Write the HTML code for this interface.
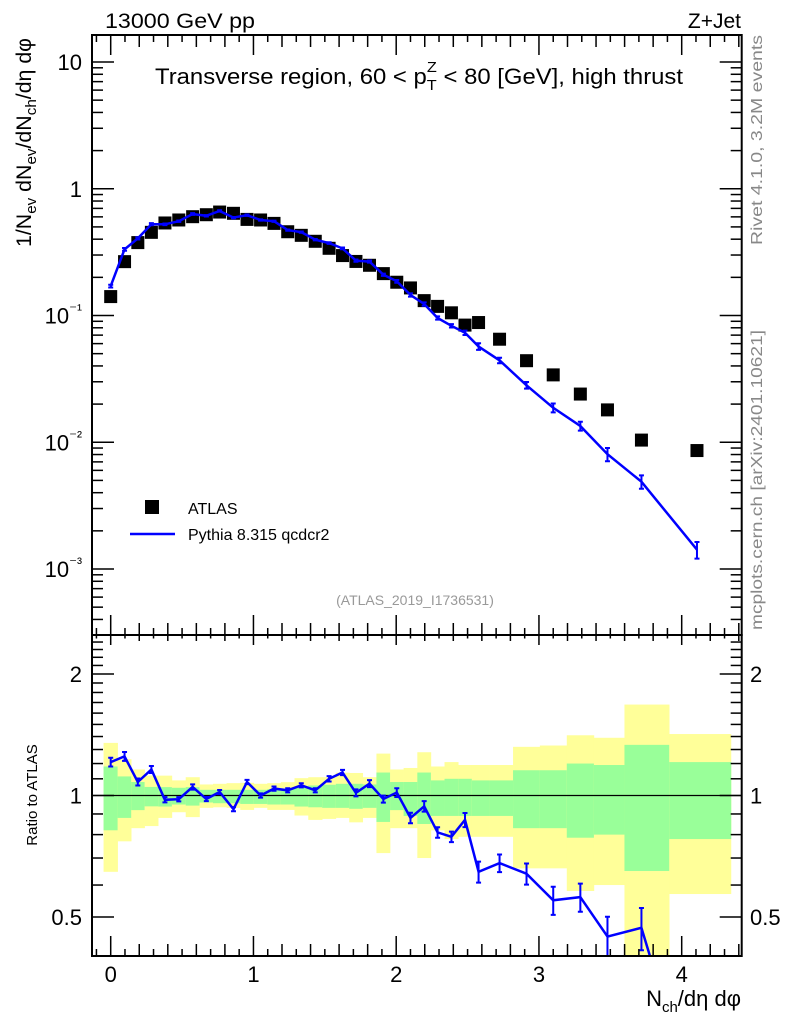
<!DOCTYPE html>
<html><head><meta charset="utf-8"><style>
html,body{margin:0;padding:0;background:#fff;overflow:hidden;width:786px;height:1024px;}
svg{display:block;font-family:"Liberation Sans",Arial,sans-serif;}
</style></head><body>
<svg id="chart" width="786" height="1024" viewBox="0 0 786 1024" xmlns="http://www.w3.org/2000/svg">
<defs>
<clipPath id="clipMain"><rect x="92" y="35" width="649.7" height="600"/></clipPath>
<clipPath id="clipRatio"><rect x="92" y="635" width="649.7" height="321"/></clipPath>
</defs>
<g id="ratioBands" clip-path="url(#clipRatio)"></g>
<g id="mainLayer" clip-path="url(#clipMain)"></g>
<g id="ratioLayer" clip-path="url(#clipRatio)"></g>
<g id="axes"></g>

<text x="105" y="28" font-size="21" textLength="150" lengthAdjust="spacingAndGlyphs">13000 GeV pp</text>
<text x="741" y="28" font-size="21" text-anchor="end">Z+Jet</text>
<text x="155" y="84" font-size="22" textLength="528" lengthAdjust="spacingAndGlyphs">Transverse region, 60 &lt; p<tspan font-size="15" dy="6">T</tspan><tspan font-size="15" dx="-9" dy="-18">Z</tspan><tspan dy="12"> &lt; 80 [GeV], high thrust</tspan></text>
<text transform="translate(31,38) rotate(-90)" font-size="21" text-anchor="end" textLength="209" lengthAdjust="spacingAndGlyphs">1/N<tspan font-size="15" dy="5">ev</tspan><tspan dy="-5"> dN</tspan><tspan font-size="15" dy="5">ev</tspan><tspan dy="-5">/dN</tspan><tspan font-size="15" dy="5">ch</tspan><tspan dy="-5">/dη dφ</tspan></text>
<text transform="translate(37,795) rotate(-90)" font-size="15" text-anchor="middle">Ratio to ATLAS</text>
<text x="741" y="1006" font-size="22" text-anchor="end">N<tspan font-size="15" dy="6">ch</tspan><tspan dy="-6">/dη dφ</tspan></text>
<text transform="translate(762,245) rotate(-90)" font-size="16" fill="#888" textLength="210" lengthAdjust="spacingAndGlyphs">Rivet 4.1.0,  3.2M events</text>
<text transform="translate(762,630) rotate(-90)" font-size="16" fill="#888" textLength="300" lengthAdjust="spacingAndGlyphs">mcplots.cern.ch [arXiv:2401.10621]</text>
<text x="415" y="605" font-size="14" fill="#999" text-anchor="middle">(ATLAS_2019_I1736531)</text>
<g>
<rect x="145" y="500" width="14" height="14" fill="#000"/>
<text x="188" y="514" font-size="16">ATLAS</text>
<line x1="130" y1="534" x2="175" y2="534" stroke="#0000ff" stroke-width="2.5"/>
<text x="188" y="540" font-size="16">Pythia 8.315 qcdcr2</text>
</g>
</svg>
<script>
const xVals=[0,0.097,0.19,0.285,0.38,0.477,0.574,0.67,0.763,0.86,0.955,1.05,1.144,1.24,1.335,1.433,1.53,1.624,1.718,1.813,1.91,2.004,2.1,2.196,2.29,2.387,2.482,2.577,2.724,2.913,3.1,3.29,3.48,3.718,4.107];
const atlasVals=[0.141,0.266,0.376,0.453,0.537,0.567,0.602,0.624,0.655,0.64,0.573,0.567,0.533,0.458,0.429,0.385,0.339,0.297,0.267,0.249,0.214,0.183,0.165,0.131,0.118,0.105,0.084,0.088,0.065,0.044,0.034,0.024,0.018,0.0104,0.0086];
const ratioVals=[1.21,1.25,1.08,1.16,0.976,0.979,1.05,0.98,1.02,0.925,1.08,1.0,1.04,1.03,1.06,1.03,1.10,1.14,1.015,1.07,0.98,1.017,0.88,0.94,0.81,0.79,0.87,0.647,0.68,0.64,0.55,0.56,0.447,0.47,0.165];
const mcRelErr=[0.025,0.025,0.02,0.02,0.015,0.012,0.015,0.012,0.012,0.012,0.012,0.012,0.012,0.012,0.012,0.012,0.015,0.015,0.02,0.02,0.02,0.025,0.03,0.03,0.03,0.03,0.04,0.06,0.05,0.06,0.08,0.08,0.12,0.12,0.15];
const yellowTop=[1.35,1.23,1.16,1.12,1.12,1.09,1.11,1.065,1.069,1.073,1.075,1.069,1.073,1.079,1.104,1.11,1.11,1.139,1.137,1.11,1.27,1.16,1.17,1.28,1.18,1.21,1.19,1.19,1.19,1.32,1.33,1.41,1.39,1.68,1.42];
const greenTop=[1.18,1.115,1.08,1.05,1.049,1.045,1.049,1.033,1.033,1.033,1.033,1.033,1.037,1.039,1.049,1.059,1.063,1.069,1.069,1.065,1.14,1.08,1.08,1.14,1.09,1.10,1.10,1.09,1.09,1.155,1.155,1.20,1.19,1.335,1.21];
const greenBot=[0.82,0.88,0.92,0.94,0.939,0.95,0.944,0.961,0.957,0.957,0.953,0.953,0.95,0.95,0.939,0.935,0.932,0.932,0.927,0.932,0.86,0.92,0.89,0.85,0.89,0.89,0.89,0.89,0.89,0.83,0.83,0.786,0.80,0.65,0.78];
const yellowBot=[0.647,0.77,0.83,0.84,0.88,0.909,0.884,0.932,0.935,0.932,0.921,0.932,0.921,0.921,0.892,0.87,0.875,0.88,0.858,0.88,0.72,0.83,0.83,0.70,0.82,0.78,0.79,0.79,0.79,0.66,0.66,0.58,0.60,0.3,0.57];
const mainTickLabels=["10","1","10\u207B\u00B9","10\u207B\u00B2","10\u207B\u00B3"];
const ratioTickLabels=["2","1","0.5"];
const xTickLabels=["0","1","2","3","4"];

const NS="http://www.w3.org/2000/svg";
const L=92,R=741.7,T=35,MB=635,RB=956;
function sx(v){return 110.7+v*142.75;}
function syMain(v){return 188.75-Math.log10(v)*126.75;}
function syRatio(v){return 795.5-Math.log2(v)*121.5;}
function mk(tag,attrs,parent){const e=document.createElementNS(NS,tag);for(const k in attrs)e.setAttribute(k,attrs[k]);parent.appendChild(e);return e;}
const bands=document.getElementById('ratioBands');
const main=document.getElementById('mainLayer');
const ratio=document.getElementById('ratioLayer');
const axes=document.getElementById('axes');
const n=xVals.length;
function edgeL(i){return i===0?xVals[0]-0.05:(xVals[i-1]+xVals[i])/2;}
function edgeR(i){return i===n-1?4.345:(xVals[i]+xVals[i+1])/2;}
for(let i=0;i<n;i++){
  const x1=sx(edgeL(i)),x2=sx(edgeR(i));
  const y=mk('rect',{x:x1,y:syRatio(yellowTop[i]),width:x2-x1+0.3,height:syRatio(yellowBot[i])-syRatio(yellowTop[i]),fill:'#ffff99'},bands);
  
  
  const g=mk('rect',{x:x1,y:syRatio(greenTop[i]),width:x2-x1+0.3,height:syRatio(greenBot[i])-syRatio(greenTop[i]),fill:'#99ff99'},bands);
  
  
}
const one=mk('line',{x1:L,x2:R,y1:syRatio(1),y2:syRatio(1),stroke:'#000','stroke-width':1.3},ratio);


for(let i=0;i<n;i++){
  const s=mk('rect',{x:sx(xVals[i])-6.5,y:syMain(atlasVals[i])-6.5,width:13,height:13,fill:'#000'},main);
  
  
}
let pm='',pr='';
for(let i=0;i<n;i++){
  const mc=atlasVals[i]*ratioVals[i];
  pm+=(i?'L':'M')+sx(xVals[i]).toFixed(1)+','+syMain(mc).toFixed(1);
  pr+=(i?'L':'M')+sx(xVals[i]).toFixed(1)+','+syRatio(ratioVals[i]).toFixed(1);
}
const lm=mk('path',{d:pm,fill:'none',stroke:'#0000ff','stroke-width':2.5},main);


const lr=mk('path',{d:pr,fill:'none',stroke:'#0000ff','stroke-width':2.5},ratio);


for(let i=0;i<n;i++){
  const mc=atlasVals[i]*ratioVals[i],e=mcRelErr[i],x=sx(xVals[i]);
  const a=syMain(mc*(1+e)),b=syMain(mc*(1-e));
  const eb=mk('path',{d:`M${x},${a}L${x},${b}M${x-2.5},${a}L${x+2.5},${a}M${x-2.5},${b}L${x+2.5},${b}`,stroke:'#0000ff','stroke-width':2,fill:'none'},main);
  
  
  const c=syRatio(ratioVals[i]*(1+e)),d=syRatio(ratioVals[i]*(1-e));
  const er=mk('path',{d:`M${x},${c}L${x},${d}M${x-2.5},${c}L${x+2.5},${c}M${x-2.5},${d}L${x+2.5},${d}`,stroke:'#0000ff','stroke-width':2,fill:'none'},ratio);
  
  
}
for(const [y1,y2,nm] of [[T,MB,'main-frame'],[MB,RB,'ratio-frame']]){
  const f=mk('rect',{x:L,y:y1,width:R-L,height:y2-y1,fill:'none',stroke:'#000','stroke-width':2},axes);
  
  
}
function tick(x1,y1,x2,y2){mk('line',{x1,y1,x2,y2,stroke:'#000','stroke-width':1.5},axes);}
for(let k=-1;k<=44;k++){
  const v=k/10,x=sx(v);if(x<L||x>R)continue;
  const len=(k%10===0)?20:(k%2===0?12:7);
  tick(x,MB,x,MB-len);tick(x,RB,x,RB-len);tick(x,T,x,T+len);tick(x,MB,x,MB+len*0.5);
}
xTickLabels.forEach((t,i)=>{const e=mk('text',{x:sx(i),y:982,'font-size':22,'text-anchor':'middle'},axes);e.textContent=t;
  
  });
for(let d=-4;d<=1;d++){for(let m=1;m<=9;m++){const v=m*Math.pow(10,d),y=syMain(v);if(y<T||y>MB)continue;
  const len=m===1?22:11;tick(L,y,L+len,y);tick(R,y,R-len,y);}}
mainTickLabels.forEach((t,i)=>{const e=mk('text',{x:82,y:syMain(Math.pow(10,1-i))+8,'font-size':22,'text-anchor':'end'},axes);
  if(i<2){e.textContent=t;}else{e.textContent='10';const s=document.createElementNS(NS,'tspan');s.setAttribute('dy','-9');s.setAttribute('font-size','15');s.textContent=t.slice(2);e.appendChild(s);}
  
  });
const rt=[0.4,0.5,0.6,0.7,0.8,0.9,1,1.1,1.2,1.3,1.4,1.5,1.6,1.7,1.8,1.9,2,2.1,2.2,2.3,2.4];
rt.forEach(v=>{const y=syRatio(v);if(y<MB||y>RB)return;const len=(v===0.5||v===1||v===2)?22:11;tick(L,y,L+len,y);tick(R,y,R-len,y);});
ratioTickLabels.forEach(t=>{const y=syRatio(parseFloat(t))+8;
  const e=mk('text',{x:82,y,'font-size':22,'text-anchor':'end'},axes);e.textContent=t;
  
  
  const e2=mk('text',{x:750,y,'font-size':22},axes);e2.textContent=t;
  
  });
</script>
</body></html>
